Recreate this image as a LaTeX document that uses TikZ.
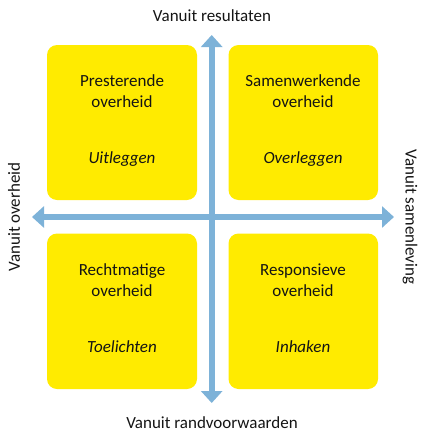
\documentclass[tikz,border=0pt]{standalone}
\usepackage{fontspec}
\setmainfont{Carlito}
\usetikzlibrary{arrows.meta}
\definecolor{boxyellow}{RGB}{255,235,0}
\definecolor{axisblue}{RGB}{125,178,216}
\definecolor{txt}{RGB}{20,20,20}
\tikzset{
  quad/.style={fill=boxyellow, draw=none, rounded corners=10pt},
  axis/.style={draw=axisblue, line width=6pt, {Triangle[width=21pt,length=12pt]}-{Triangle[width=21pt,length=12pt]}},
  lbl/.style={font=\fontsize{17}{21}\selectfont, text=txt, inner sep=0pt},
  ital/.style={font=\fontsize{17}{21}\selectfont\itshape, text=txt, inner sep=0pt}
}
\begin{document}
\begin{tikzpicture}[x=1pt,y=-1pt]
\useasboundingbox (0,0) rectangle (425,439);
% boxes
\fill[quad] (47,45) rectangle (197,200);
\fill[quad] (228.5,45) rectangle (378,200);
\fill[quad] (47,233.5) rectangle (197,389);
\fill[quad] (228.5,233.5) rectangle (378,389);
% axes
\coordinate (top) at (211.7,35);
\coordinate (bottom) at (211.7,403);
\coordinate (left) at (32,217);
\coordinate (right) at (394,217);
\draw[axis] (bottom) -- (top);
\draw[axis] (left) -- (right);
% axis labels
\node[lbl] (tl) at (212,16) {Vanuit resultaten};
\node[lbl] (bl) at (212,423) {Vanuit randvoorwaarden};
\node[lbl, rotate=90] (ll) at (14,217) {Vanuit overheid};
\node[lbl, rotate=-90] (rl) at (410,217) {Vanuit samenleving};
% box texts
\node[lbl, align=center] (t1) at (122,91.5) {Presterende\\overheid};
\node[ital] (i1) at (122,159) {Uitleggen};
\node[lbl, align=center] (t2) at (303,91.5) {Samenwerkende\\overheid};
\node[ital] (i2) at (303,159) {Overleggen};
\node[lbl, align=center] (t3) at (122,280.5) {Rechtmatige\\overheid};
\node[ital] (i3) at (122,347) {Toelichten};
\node[lbl, align=center] (t4) at (303,280.5) {Responsieve\\overheid};
\node[ital] (i4) at (303,347) {Inhaken};
\end{tikzpicture}
\end{document}
